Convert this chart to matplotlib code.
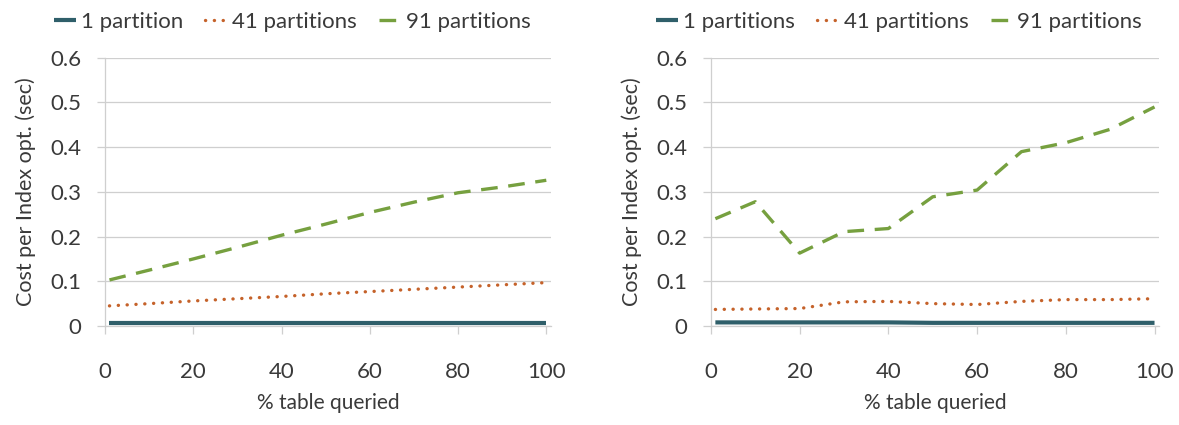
import matplotlib.pyplot as plt

plt.rcParams['font.family'] = ['Lato', 'DejaVu Sans']

# % of table queried
pct = [1, 10, 20, 30, 40, 50, 60, 70, 80, 90, 100]

# left chart
left_1 = [0.007, 0.007, 0.007, 0.007, 0.007, 0.007, 0.007, 0.007, 0.007, 0.007, 0.007]
left_41 = [0.045, 0.050, 0.056, 0.061, 0.066, 0.072, 0.077, 0.082, 0.087, 0.092, 0.097]
left_91 = [0.103, 0.125, 0.150, 0.176, 0.203, 0.228, 0.254, 0.277, 0.298, 0.311, 0.326]

# right chart
right_1 = [0.008, 0.008, 0.008, 0.008, 0.008, 0.007, 0.007, 0.007, 0.007, 0.007, 0.007]
right_41 = [0.037, 0.038, 0.039, 0.054, 0.055, 0.050, 0.048, 0.055, 0.059, 0.059, 0.061]
right_91 = [0.240, 0.278, 0.163, 0.211, 0.218, 0.289, 0.304, 0.390, 0.410, 0.440, 0.490]

yticks = [0, 0.1, 0.2, 0.3, 0.4, 0.5, 0.6]
ytick_labels = ['0', '0.1', '0.2', '0.3', '0.4', '0.5', '0.6']
xticks = [0, 20, 40, 60, 80, 100]

TXT = '#3a3a3a'
GRID = '#cfcfcf'
C1 = '#2f5f6a'
C41 = '#c5622a'
C91 = '#76a03f'

fig = plt.figure(figsize=(11.79, 4.25), dpi=100)
ax_l = fig.add_axes([0.0891, 0.233, 0.378, 0.631])
ax_r = fig.add_axes([0.603, 0.233, 0.380, 0.631])


def draw(ax, s1, s41, s91, name1):
    ax.plot(pct, s1, color=C1, lw=3.0, solid_capstyle='butt', label=name1)
    ax.plot(pct, s41, color=C41, lw=2.4, linestyle=(0, (0.05, 2.6)),
            dash_capstyle='round', label='41 partitions')
    ax.plot(pct, s91, color=C91, lw=2.4, linestyle=(0, (5.0, 3.2)),
            label='91 partitions')

    ax.set_xlim(0, 101)
    ax.set_ylim(0, 0.6)
    ax.set_xticks(xticks)
    ax.set_yticks(yticks)
    ax.set_yticklabels(ytick_labels)
    ax.grid(axis='y', color=GRID, lw=0.9)
    ax.set_axisbelow(True)
    for side in ['top', 'right']:
        ax.spines[side].set_visible(False)
    for side in ['left', 'bottom']:
        ax.spines[side].set_color(GRID)
        ax.spines[side].set_linewidth(0.9)
    ax.tick_params(axis='y', length=6, width=0.9, color=GRID, pad=11,
                   labelsize=16, labelcolor=TXT)
    ax.tick_params(axis='x', length=6, width=0.9, color=GRID, pad=20,
                   labelsize=16, labelcolor=TXT)
    ax.set_xlabel('% table queried', fontsize=15, color=TXT, labelpad=8)
    ax.set_ylabel('Cost per Index opt. (sec)', fontsize=15.5, color=TXT, labelpad=10)

    ax.legend(loc='center', bbox_to_anchor=(0.42, 1.134), ncol=3, frameon=False,
              fontsize=16, labelcolor=TXT, handlelength=1.0, handletextpad=0.2,
              columnspacing=1.0, borderaxespad=0)


draw(ax_l, left_1, left_41, left_91, '1 partition')
draw(ax_r, right_1, right_41, right_91, '1 partitions')

fig.savefig('out.png', dpi=100)
